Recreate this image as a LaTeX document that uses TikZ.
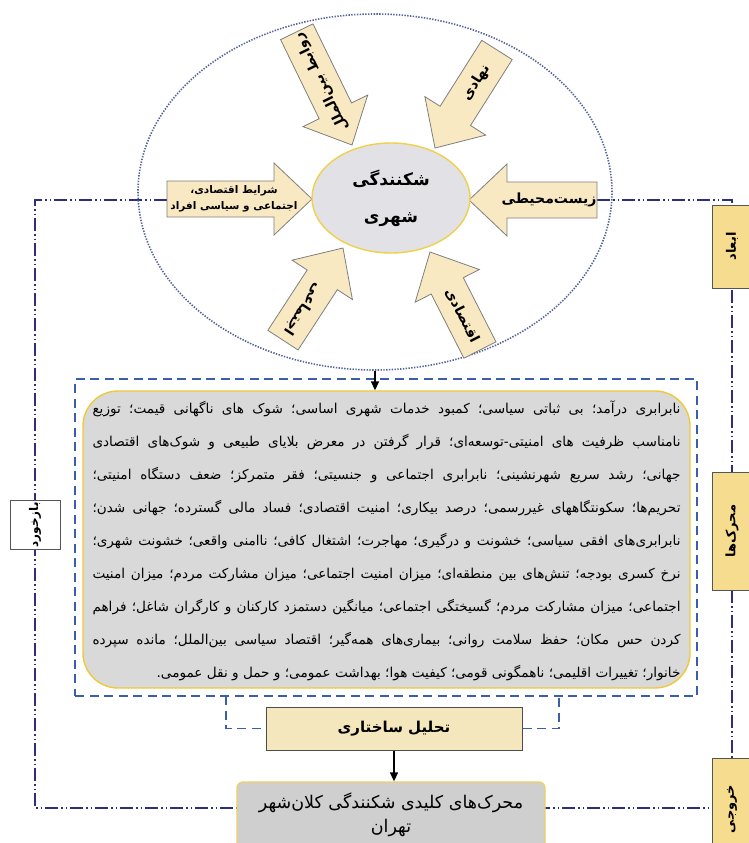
\documentclass[tikz,border=0pt]{standalone}
\usepackage{fontspec}
\usepackage{graphicx}
\newfontfamily\arabicfont[Script=Arabic]{DejaVu Sans}
\usetikzlibrary{shapes.geometric,arrows.meta}
\TeXXeTstate=1
\newcommand\pers[1]{\beginR#1\endR}
\newcommand\smallpers[1]{{\fontsize{10.5}{13}\selectfont\beginR#1\endR}}
\newsavebox\plinebox
\newlength\plinew
\setlength\plinew{588pt}
\newcommand\PL[1]{\sbox\plinebox{\beginR#1\endR}%
  \ifdim\wd\plinebox>\plinew
    \hbox to \plinew{\resizebox{\plinew}{\height}{\usebox\plinebox}}%
  \else
    \hbox to \plinew{\beginR#1\endR}%
  \fi}
\newcommand\PLlast[1]{\hbox to \plinew{\hfill\beginR#1\endR}}
\definecolor{dashcol}{HTML}{3A5FA8}
\definecolor{loopcol}{HTML}{2E2E7E}
\definecolor{ellcol}{HTML}{55659A}
\definecolor{arrfill}{HTML}{F8E9C3}
\definecolor{arrdraw}{HTML}{7F7F7F}
\definecolor{cfill}{HTML}{E2E2E6}
\definecolor{cdraw}{HTML}{F0D04A}
\definecolor{tbfill}{HTML}{D9D9D9}
\definecolor{tbdraw}{HTML}{F0C93A}
\definecolor{tsfill}{HTML}{F5E7BD}
\definecolor{tsdraw}{HTML}{4D4D4D}
\definecolor{mkfill}{HTML}{CFCFCF}
\definecolor{mkdraw}{HTML}{F0D060}
\definecolor{sidefill}{HTML}{F6DC8E}
\definecolor{sidedraw}{HTML}{555555}
\tikzset{
  bigell/.style={ellipse, draw=ellcol, line width=1.6pt, dash pattern=on 1.4pt off 1.4pt},
  blockarr/.style={fill=arrfill, draw=arrdraw, line width=0.8pt, line join=miter},
  arrtxt/.style={inner sep=1pt, align=center, font=\arabicfont\bfseries\fontsize{14}{16}\selectfont},
  loopline/.style={draw=loopcol, line width=1.3pt, dash pattern=on 13pt off 3pt on 1.5pt off 3pt on 1.5pt off 3pt},
  dashbox/.style={draw=dashcol, line width=1.4pt, dash pattern=on 9pt off 5.5pt},
  flow/.style={-{Triangle[length=9pt,width=8pt]}, line width=1.6pt, black},
  sidebox/.style={rotate=90, draw=sidedraw, fill=sidefill, line width=0.8pt, minimum height=40pt, inner sep=2pt, font=\arabicfont\bfseries\fontsize{13}{15}\selectfont},
}
% tipx tipy angle length name textangle textdist text
\newcommand\blockarrow[8]{%
  \begin{scope}[shift={(#1,#2)},rotate=#3]
    \draw[blockarr] (0,0) -- (-38,36) -- (-38,18) -- (-#4,18) -- (-#4,-18) -- (-38,-18) -- (-38,-36) -- cycle;
    \node[arrtxt, rotate=#6] (#5) at (-#7,0) {#8};
  \end{scope}}
\begin{document}
\begin{tikzpicture}[x=1pt,y=-1pt]
\useasboundingbox (0,0) rectangle (749,843);
\fill[white] (0,0) rectangle (749,843);

% feedback loop
\coordinate (latail) at (167,200);
\coordinate (ratail) at (597,200);
\coordinate (ltop) at (35,200);
\coordinate (lbot) at (35,808);
\coordinate (mkl) at (237,808);
\coordinate (mkr) at (545,808);
\coordinate (rtop) at (732,200);
\coordinate (rbot) at (732,808);
\draw[loopline] (latail) -- (ltop) -- (lbot) -- (mkl);
\draw[loopline] (ratail) -- (rtop) -- (rbot) -- (mkr);

% big dotted ellipse
\node[bigell, minimum width=474pt, minimum height=356pt] (be) at (375,192) {};

% block arrows
\blockarrow{352}{145}{-64}{126}{aul}{116}{70}{\pers{روابط بین‌الملل}}
\blockarrow{435}{148}{-122.3}{116}{aur}{57.7}{77}{\pers{نهادی}}
\blockarrow{343}{248}{56.9}{110}{all}{-123.1}{73}{\pers{اجتماعی}}
\blockarrow{430}{252}{117}{110}{alr}{-63}{71}{\pers{اقتصادی}}
\blockarrow{312}{199}{0}{145}{alf}{0}{78}{\smallpers{شرایط اقتصادی،}\\\smallpers{اجتماعی و سیاسی افراد}}
\blockarrow{469}{200}{180}{128}{arg}{0}{80}{\pers{زیست‌محیطی}}

% central ellipse
\node[ellipse, fill=cfill, draw=cdraw, line width=1.4pt, minimum width=158pt, minimum height=110pt,
      align=center, font=\arabicfont\bfseries\fontsize{17}{37}\selectfont] (ce) at (391,198)
      {\pers{شکنندگی}\\\pers{شهری}};

% dashed frame and text box
\node[dashbox, minimum width=622pt, minimum height=317pt, inner sep=0pt] (dr) at (386,537.5) {};
\node[fill=tbfill, draw=tbdraw, line width=1.4pt, rounded corners=35pt, minimum width=607pt, minimum height=297pt, inner sep=0pt] (tb) at (386.5,539.5) {};
\draw[flow] (be.south) -- (be.south |- tb.north);
\node[inner sep=0pt] (tbtext) at (386.5,541) {\arabicfont\fontsize{13.6}{33}\selectfont\vbox{%
\PL{نابرابری درآمد؛ بی ثباتی سیاسی؛ کمبود خدمات شهری اساسی؛ شوک های ناگهانی قیمت؛ توزیع}
\PL{نامناسب ظرفیت های امنیتی-توسعه‌ای؛ قرار گرفتن در معرض بلایای طبیعی و شوک‌های اقتصادی}
\PL{جهانی؛ رشد سریع شهرنشینی؛ نابرابری اجتماعی و جنسیتی؛ فقر متمرکز؛ ضعف دستگاه امنیتی؛}
\PL{تحریم‌ها؛ سکونتگاههای غیررسمی؛ درصد بیکاری؛ امنیت اقتصادی؛ فساد مالی گسترده؛ جهانی شدن؛}
\PL{نابرابری‌های افقی سیاسی؛ خشونت و درگیری؛ مهاجرت؛ اشتغال کافی؛ ناامنی واقعی؛ خشونت شهری؛}
\PL{نرخ کسری بودجه؛ تنش‌های بین منطقه‌ای؛ میزان امنیت اجتماعی؛ میزان مشارکت مردم؛ میزان امنیت}
\PL{اجتماعی؛ میزان مشارکت مردم؛ گسیختگی اجتماعی؛ میانگین دستمزد کارکنان و کارگران شاغل؛ فراهم}
\PL{کردن حس مکان؛ حفظ سلامت روانی؛ بیماری‌های همه‌گیر؛ اقتصاد سیاسی بین‌الملل؛ مانده سپرده}
\PLlast{خانوار؛ تغییرات اقلیمی؛ ناهمگونی قومی؛ کیفیت هوا؛ بهداشت عمومی؛ و حمل و نقل عمومی.}}};

% structural analysis
\node[fill=tsfill, draw=tsdraw, line width=1pt, minimum width=256pt, minimum height=43pt,
      font=\arabicfont\bfseries\fontsize{15}{18}\selectfont] (ts) at (394,728.5) {\pers{تحلیل ساختاری}};
\coordinate (bl) at (226,696);
\coordinate (br) at (559,696);
\draw[dashbox] (bl) |- (ts.west);
\draw[dashbox] (ts.east) -| (br);

% key drivers box
\node[fill=mkfill, draw=mkdraw, line width=1.3pt, rounded corners=6pt, minimum width=308pt, minimum height=70pt] (mk) at (391,817) {};
\node[align=center, inner sep=0pt, font=\arabicfont\fontsize{17.5}{24}\selectfont] (mktext) at (391,815)
      {\pers{محرک‌های کلیدی شکنندگی کلان‌شهر}\\\pers{تهران}};
\draw[flow] (ts.south) -- (ts.south |- mk.north);

% side boxes
\node[sidebox, minimum width=83pt] (sab) at (732,246.5) {\pers{ابعاد}};
\node[sidebox, minimum width=118pt] (smh) at (732,531) {\pers{محرک‌ها}};
\node[sidebox, minimum width=102pt] (skh) at (732,809) {\pers{خروجی}};

% feedback box
\node[rotate=90, draw=sidedraw, fill=white, line width=0.8pt, minimum width=44pt, minimum height=50pt, inner sep=2pt,
      font=\arabicfont\bfseries\fontsize{12}{14}\selectfont] (fb) at (35,525) {\pers{بازخورد}};
\end{tikzpicture}
\end{document}
